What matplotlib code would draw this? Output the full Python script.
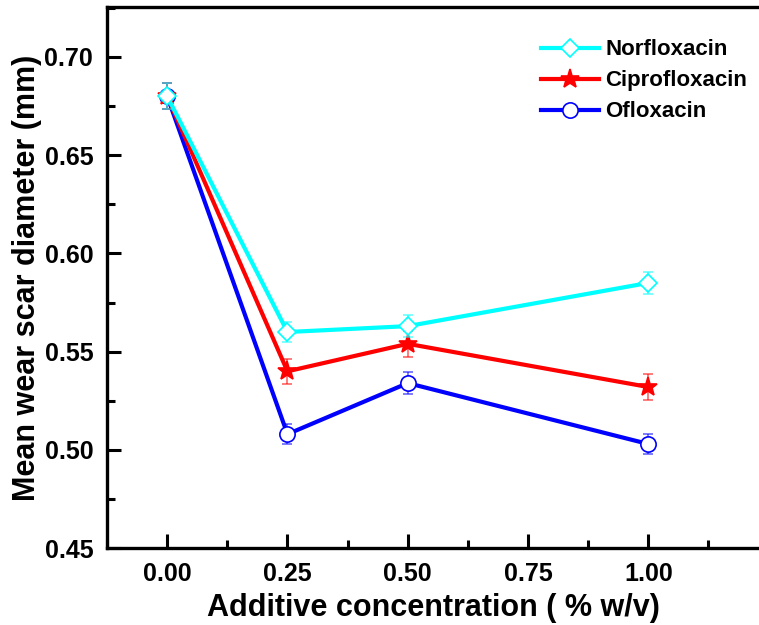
import numpy as np
import matplotlib.pyplot as plt
from matplotlib.ticker import MultipleLocator

plt.rcParams['font.family'] = ['Liberation Sans', 'DejaVu Sans']
plt.rcParams['font.weight'] = 'bold'

conc = [0.0, 0.25, 0.50, 1.00]

norflox = [0.680, 0.560, 0.563, 0.585]
norflox_err = [0.0066, 0.0050, 0.0056, 0.0056]

ciproflox = [0.680, 0.540, 0.554, 0.532]
ciproflox_err = [0.0066, 0.0064, 0.0066, 0.0064]

oflox = [0.680, 0.508, 0.534, 0.503]
oflox_err = [0.0066, 0.0050, 0.0054, 0.0050]

fig = plt.figure(figsize=(7.59, 6.25), dpi=100)
ax = fig.add_axes([0.141, 0.123, 0.859, 0.866])

series = [
    ("Norfloxacin", norflox, norflox_err, "#00ffff", "D", "white", 9, 3),
    ("Ciprofloxacin", ciproflox, ciproflox_err, "#ff0000", "*", "#ff0000", 14, 2),
    ("Ofloxacin", oflox, oflox_err, "#0000ff", "o", "white", 11, 1),
]
for name, y, err, col, mk, fc, ms, z in series:
    ax.errorbar(conc, y, yerr=err, fmt="none", ecolor=col, alpha=0.6,
                elinewidth=1.2, capsize=3.5, capthick=1.2, zorder=z)
    ax.plot(conc, y, color=col, lw=3, marker=mk, ms=ms, mfc=fc, mec=col,
            mew=1.2, label=name, zorder=z + 0.5)

ax.set_xlim(-0.125, 1.23)
ax.set_ylim(0.45, 0.7255)
ax.xaxis.set_major_locator(MultipleLocator(0.25))
ax.xaxis.set_minor_locator(MultipleLocator(0.125))
ax.yaxis.set_major_locator(MultipleLocator(0.05))
ax.yaxis.set_minor_locator(MultipleLocator(0.025))
ax.xaxis.set_major_formatter(plt.FormatStrFormatter('%.2f'))
ax.yaxis.set_major_formatter(plt.FormatStrFormatter('%.2f'))
ax.set_xticks([0.0, 0.25, 0.5, 0.75, 1.0])

ax.tick_params(which='both', direction='in', width=2.2, labelsize=18)
ax.tick_params(which='major', length=10, pad=10)
ax.tick_params(which='minor', length=6)
ax.tick_params(axis='y', right=False)
ax.tick_params(axis='x', top=False)
for sp in ['left', 'bottom', 'top']:
    ax.spines[sp].set_linewidth(2.4)
ax.spines['right'].set_visible(False)

ax.set_xlabel("Additive concentration ( % w/v)", fontsize=22, fontweight='bold', labelpad=5)
ax.set_ylabel("Mean wear scar diameter (mm)", fontsize=22, fontweight='bold', labelpad=2)

fig.legend(*ax.get_legend_handles_labels(), loc='upper left',
           bbox_to_anchor=(0.713, 0.937), frameon=False, borderpad=0,
           borderaxespad=0, fontsize=16, handlelength=2.6,
           labelspacing=0.45, handletextpad=0.3)

plt.savefig("out.png", dpi=100)
